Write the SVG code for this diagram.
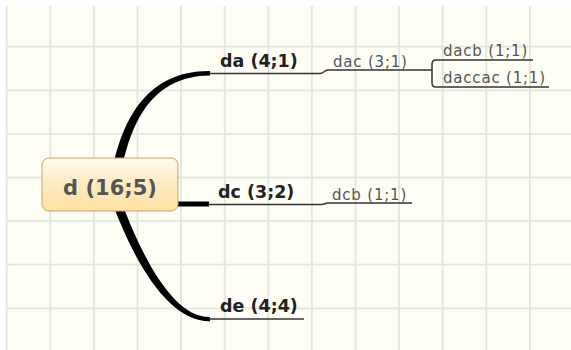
<svg xmlns="http://www.w3.org/2000/svg" width="571" height="350" viewBox="0 0 571 350">
  <defs>
    <linearGradient id="nodeGrad" x1="0" y1="0" x2="0" y2="1">
      <stop offset="0" stop-color="#fffaf3"/>
      <stop offset="0.45" stop-color="#feebc4"/>
      <stop offset="1" stop-color="#fde1a0"/>
    </linearGradient>
  </defs>
  <style>
    .grid { stroke: #dfe8de; stroke-width: 1.8; fill: none; }
    .thin { stroke: #333; stroke-width: 1.5; fill: none; }
    .thick { fill: #000; stroke: none; }
    .lbl { font-family: "DejaVu Sans", Verdana, sans-serif; font-weight: bold; font-size: 17.5px; fill: #222; }
    .sub { font-family: "DejaVu Sans", Verdana, sans-serif; font-size: 15px; letter-spacing: 0.8px; fill: #555; }
    .root { font-family: "DejaVu Sans", Verdana, sans-serif; font-weight: bold; font-size: 21px; fill: #555; }
  </style>
  <rect x="0" y="0" width="571" height="350" fill="#ffffff"/>
  <rect x="6" y="6" width="565" height="344" fill="#fefef5"/>
  <g id="grid">
    <path class="grid" d="M6.7,6V350 M50.3,6V350 M93.9,6V350 M137.5,6V350 M181.1,6V350 M224.7,6V350 M268.3,6V350 M311.9,6V350 M355.5,6V350 M399.1,6V350 M442.7,6V350 M486.3,6V350 M529.9,6V350"/>
    <path class="grid" d="M6,46.7H571 M6,90.3H571 M6,133.9H571 M6,177.5H571 M6,221.1H571 M6,264.7H571 M6,308.3H571"/>
  </g>
  <g id="connectors">
    <path class="thick" d="M113.6,164 C123.6,119 147.5,70.5 210,71 L210,75.5 C152.5,76 132.4,121 122.4,166 Z"/>
    <path class="thick" d="M111.8,201.6 C135.8,266.6 170,321.5 210,321.3 L210,317 C175,317.5 144.2,263.4 120.2,198.4 Z"/>
    <path d="M170,204 H209" stroke="#000" stroke-width="5" fill="none"/>
    <path class="thin" d="M209,73.5 H320 C324,73.5 324,70 328,70 H432"/>
    <path class="thin" d="M533,60 H436 Q432,60 432,64 V83 Q432,87 436,87 H549"/>
    <path class="thin" d="M208,204.5 H322 C325,204.5 325,203 328,203 H412"/>
    <path class="thin" d="M209,319 H304"/>
  </g>
  <g id="node-d">
    <rect x="42" y="158" width="136" height="53" rx="7" ry="7" fill="url(#nodeGrad)" stroke="#c7a466" stroke-width="1"/>
    <text class="root" x="110" y="195" text-anchor="middle">d (16;5)</text>
  </g>
  <g id="node-da">
    <text class="lbl" x="220" y="66.5">da (4;1)</text>
  </g>
  <g id="node-dac">
    <text class="sub" x="333" y="67">dac (3;1)</text>
  </g>
  <g id="node-dacb">
    <text class="sub" x="443" y="56">dacb (1;1)</text>
  </g>
  <g id="node-daccac">
    <text class="sub" x="443" y="83">daccac (1;1)</text>
  </g>
  <g id="node-dc">
    <text class="lbl" x="218" y="198">dc (3;2)</text>
  </g>
  <g id="node-dcb">
    <text class="sub" x="332" y="200">dcb (1;1)</text>
  </g>
  <g id="node-de">
    <text class="lbl" x="220" y="312">de (4;4)</text>
  </g>
</svg>
